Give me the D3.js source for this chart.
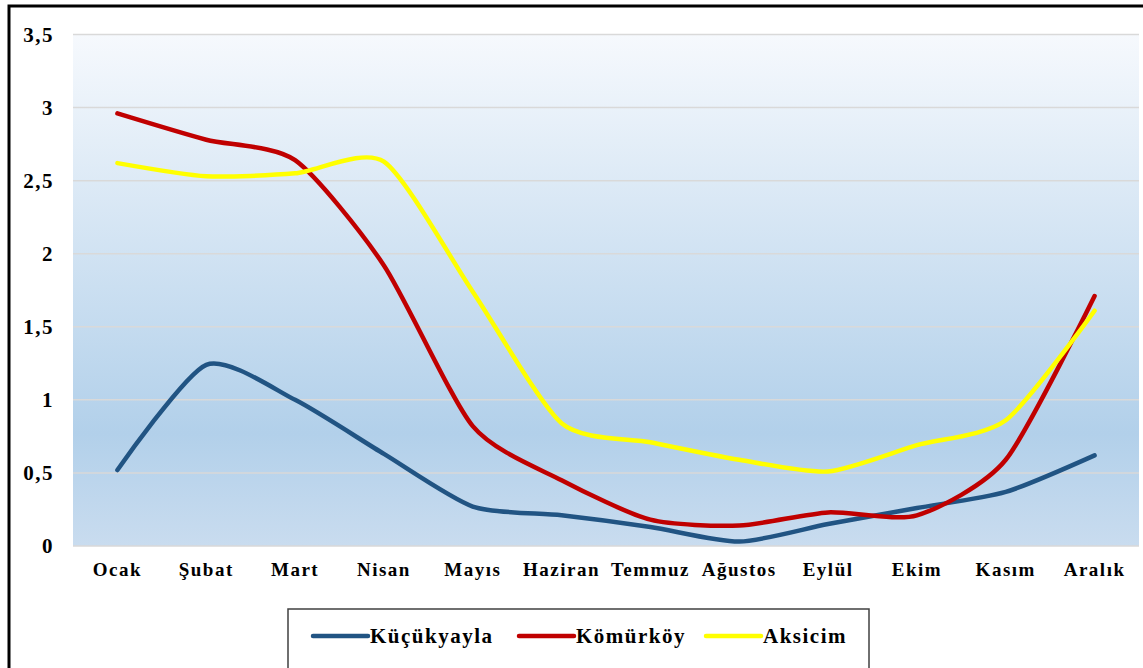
<!DOCTYPE html>
<html><head><meta charset="utf-8">
<script src="https://cdn.jsdelivr.net/npm/d3@7"></script>
<style>body{margin:0;background:#fff;}svg{display:block;}</style>
</head><body>
<svg id="c" width="1143" height="668"></svg>
<script>
const months = ["Ocak","Şubat","Mart","Nisan","Mayıs","Haziran","Temmuz","Ağustos","Eylül","Ekim","Kasım","Aralık"];
const kucukyayla = [0.52,1.24,1.0,0.63,0.27,0.21,0.13,0.03,0.15,0.26,0.37,0.62];
const komurkoy   = [2.96,2.78,2.64,1.92,0.82,0.45,0.18,0.14,0.23,0.21,0.59,1.71];
const aksicim    = [2.62,2.53,2.55,2.63,1.74,0.84,0.71,0.59,0.51,0.69,0.86,1.61];
const seriesNames = ["Küçükyayla","Kömürköy","Aksicim"];
const yTicks = [0,0.5,1,1.5,2,2.5,3,3.5];

const series = [
  {name: seriesNames[0], values: kucukyayla, color: "#215483"},
  {name: seriesNames[1], values: komurkoy, color: "#c00000"},
  {name: seriesNames[2], values: aksicim, color: "#ffff00"}
];

const FONT = '"Liberation Serif","Times New Roman",serif';
const svg = d3.select("#c");
const L = 73, R = 1139, T = 34.5, B = 546;

// outer frame
svg.append("rect").attr("x",9).attr("y",6).attr("width",1200).attr("height",700)
  .attr("fill","none").attr("stroke","#000").attr("stroke-width",3);

const defs = svg.append("defs");
const g = defs.append("linearGradient").attr("id","bg").attr("x1",0).attr("y1",0).attr("x2",0).attr("y2",1);
g.append("stop").attr("offset","0%").attr("stop-color","#f6f9fd");
g.append("stop").attr("offset","78%").attr("stop-color","#b2d0ea");
g.append("stop").attr("offset","100%").attr("stop-color","#c9dcef");

const x = d3.scaleBand().domain(months).range([L,R]);
const y = d3.scaleLinear().domain([0,3.5]).range([B,T]);

svg.append("rect").attr("x",L).attr("y",T).attr("width",R-L).attr("height",B-T).attr("fill","url(#bg)");

// gridlines
svg.append("g").selectAll("line").data(yTicks).join("line")
  .attr("x1",L).attr("x2",R).attr("y1",d=>y(d)).attr("y2",d=>y(d))
  .attr("stroke","#d9d9d9").attr("stroke-width",1.5);

// y axis labels
const yAxis = svg.append("g").attr("transform",`translate(${L},0)`)
  .call(d3.axisLeft(y).tickValues(yTicks).tickSize(0).tickPadding(19).tickFormat(d=>String(d).replace(".",",")));
yAxis.select(".domain").remove();
yAxis.selectAll("text").style("font-family",FONT).style("font-weight","bold")
  .style("font-size","21px").style("letter-spacing","1.5px").attr("fill","#000");

// x axis labels
const xAxis = svg.append("g").attr("transform",`translate(0,${B})`)
  .call(d3.axisBottom(x).tickSize(0).tickPadding(17));
xAxis.select(".domain").remove();
xAxis.selectAll("text").style("font-family",FONT).style("font-weight","bold")
  .style("font-size","19px").style("letter-spacing","1.5px").attr("fill","#000");

const line = d3.line()
  .x((d,i)=>x(months[i]) + x.bandwidth()/2)
  .y(d=>y(d))
  .curve(d3.curveCardinal.tension(0.3));

svg.append("g").selectAll("path").data(series).join("path")
  .attr("d",d=>line(d.values)).attr("fill","none")
  .attr("stroke",d=>d.color).attr("stroke-width",4.5)
  .attr("stroke-linecap","round").attr("stroke-linejoin","round");

// legend
const lg = svg.append("g");
lg.append("rect").attr("x",288).attr("y",609).attr("width",581).attr("height",80)
  .attr("fill","#fff").attr("stroke","#404040").attr("stroke-width",1.5);
const legX = [313, 519, 706];
series.forEach((s,i)=>{
  lg.append("line").attr("x1",legX[i]).attr("x2",legX[i]+55).attr("y1",636).attr("y2",636)
    .attr("stroke",s.color).attr("stroke-width",4.5).attr("stroke-linecap","round");
  lg.append("text").attr("x",legX[i]+57).attr("y",643).text(s.name)
    .style("font-family",FONT).style("font-weight","bold")
    .style("font-size","21px").style("letter-spacing","1.5px").attr("fill","#000");
});
</script>
</body></html>
